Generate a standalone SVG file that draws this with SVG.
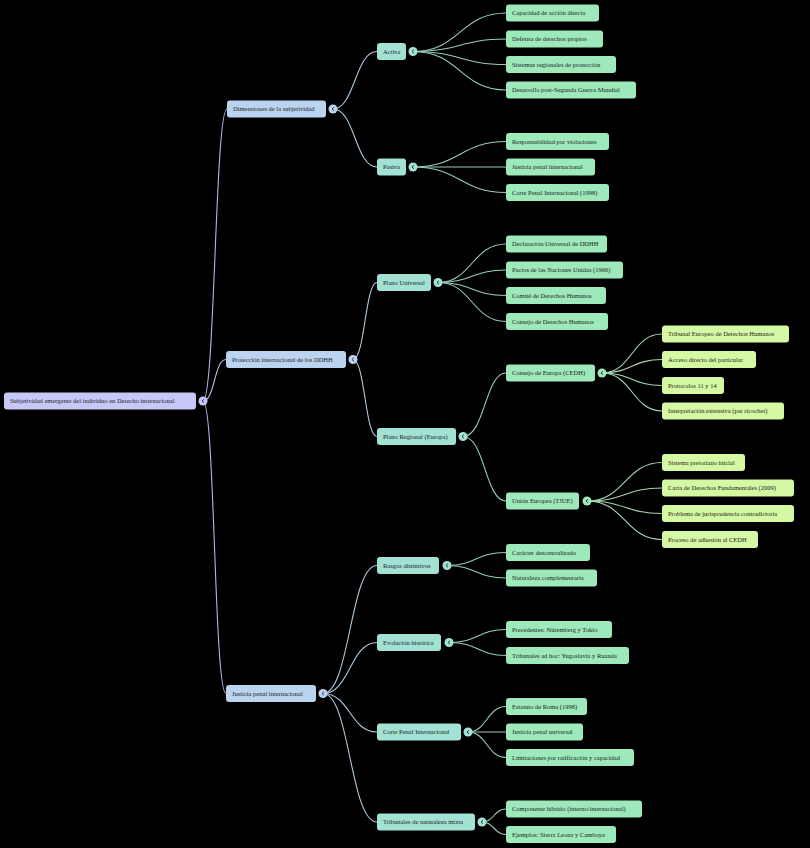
<svg xmlns="http://www.w3.org/2000/svg" width="810" height="848" viewBox="0 0 810 848">
<style>
text{font-family:"Liberation Serif","Times New Roman",serif;font-size:6.5px;fill:#1c1c1c}
.e{fill:none;stroke-width:1.1}
.e0{stroke:#b4b6e6}.e1{stroke:#b0c8de}.e2{stroke:#98ccb8}.e3{stroke:#a6d6b0}
.n0 rect,.n0 circle{fill:#c6c9f8}
.n1 rect,.n1 circle{fill:#bad3ef}
.n2 rect,.n2 circle{fill:#a2e2d4}
.n3 rect,.n3 circle{fill:#9ee9bb}
.n4 rect{fill:#d4f8a3}
.ch{fill:none;stroke:#2a2a2a;stroke-width:0.9}
</style>
<rect width="810" height="848" fill="#000"/>
<g id="connectors">
<path class="e e0" d="M203,401 C215,401 215,109 227,109"/>
<path class="e e0" d="M203,401 C215,401 214,359.5 226,359.5"/>
<path class="e e0" d="M203,401 C215,401 214,693.5 226,693.5"/>
<path class="e e1" d="M333,109 C355,109 355,51.5 377,51.5"/>
<path class="e e1" d="M333,109 C355,109 355,167 377,167"/>
<path class="e e1" d="M353,359.5 C365,359.5 365,282.5 377,282.5"/>
<path class="e e1" d="M353,359.5 C365,359.5 365,436.5 377,436.5"/>
<path class="e e1" d="M323,693.5 C350,693.5 350,565.5 377,565.5"/>
<path class="e e1" d="M323,693.5 C350,693.5 350,642.5 377,642.5"/>
<path class="e e1" d="M323,693.5 C350,693.5 350,732 377,732"/>
<path class="e e1" d="M323,693.5 C350,693.5 350,822 377,822"/>
<path class="e e2" d="M413,51.5 C460,51.5 460,13 506,13"/>
<path class="e e2" d="M413,51.5 C460,51.5 460,39 506,39"/>
<path class="e e2" d="M413,51.5 C460,51.5 460,64.5 506,64.5"/>
<path class="e e2" d="M413,51.5 C460,51.5 460,90 506,90"/>
<path class="e e2" d="M413,167 C460,167 460,141.5 506,141.5"/>
<path class="e e2" d="M413,167 C460,167 460,167 506,167"/>
<path class="e e2" d="M413,167 C460,167 460,192.5 506,192.5"/>
<path class="e e2" d="M438,282.5 C472,282.5 472,244 506,244"/>
<path class="e e2" d="M438,282.5 C472,282.5 472,270 506,270"/>
<path class="e e2" d="M438,282.5 C472,282.5 472,295.5 506,295.5"/>
<path class="e e2" d="M438,282.5 C472,282.5 472,321.5 506,321.5"/>
<path class="e e2" d="M463,436.5 C485,436.5 485,373 506,373"/>
<path class="e e2" d="M463,436.5 C485,436.5 485,501 506,501"/>
<path class="e e3" d="M602,373 C632,373 632,334 662,334"/>
<path class="e e3" d="M602,373 C632,373 632,359.5 662,359.5"/>
<path class="e e3" d="M602,373 C632,373 632,385.5 662,385.5"/>
<path class="e e3" d="M602,373 C632,373 632,411 662,411"/>
<path class="e e3" d="M587,501 C625,501 625,462.5 662,462.5"/>
<path class="e e3" d="M587,501 C625,501 625,488 662,488"/>
<path class="e e3" d="M587,501 C625,501 625,513.5 662,513.5"/>
<path class="e e3" d="M587,501 C625,501 625,539.5 662,539.5"/>
<path class="e e2" d="M447,565.5 C476,565.5 476,552.5 506,552.5"/>
<path class="e e2" d="M447,565.5 C476,565.5 476,578 506,578"/>
<path class="e e2" d="M449,642.5 C478,642.5 478,629.5 506,629.5"/>
<path class="e e2" d="M449,642.5 C478,642.5 478,655.5 506,655.5"/>
<path class="e e2" d="M468,732 C487,732 487,706.5 506,706.5"/>
<path class="e e2" d="M468,732 C487,732 487,732 506,732"/>
<path class="e e2" d="M468,732 C487,732 487,757.5 506,757.5"/>
<path class="e e2" d="M482,822 C494,822 494,809 506,809"/>
<path class="e e2" d="M482,822 C494,822 494,834.5 506,834.5"/>
</g>

<g id="root" class="n0"><rect x="4" y="392.5" width="192" height="17" rx="3"/><text x="10" y="403.3">Subjetividad emergente del individuo en Derecho internacional</text><circle cx="203" cy="401" r="4.5"/><path class="ch" d="M204,399.2 L202,401 L204,402.8"/></g>

<g id="dimensiones" class="n1"><rect x="227" y="100.5" width="99" height="17" rx="3"/><text x="233" y="111.3">Dimensiones de la subjetividad</text><circle cx="333" cy="109" r="4.5"/><path class="ch" d="M334,107.2 L332,109 L334,110.8"/></g>
<g id="proteccion" class="n1"><rect x="226" y="351" width="120" height="17" rx="3"/><text x="232" y="361.8">Protección internacional de los DDHH</text><circle cx="353" cy="359.5" r="4.5"/><path class="ch" d="M354,357.7 L352,359.5 L354,361.3"/></g>
<g id="justicia" class="n1"><rect x="226" y="685" width="90" height="17" rx="3"/><text x="232" y="695.8">Justicia penal internacional</text><circle cx="323" cy="693.5" r="4.5"/><path class="ch" d="M324,691.7 L322,693.5 L324,695.3"/></g>

<g id="activa" class="n2"><rect x="377" y="43" width="29" height="17" rx="3"/><text x="383" y="53.8">Activa</text><circle cx="413" cy="51.5" r="4.5"/><path class="ch" d="M414,49.7 L412,51.5 L414,53.3"/></g>
<g id="pasiva" class="n2"><rect x="377" y="158.5" width="29" height="17" rx="3"/><text x="383" y="169.3">Pasiva</text><circle cx="413" cy="167" r="4.5"/><path class="ch" d="M414,165.2 L412,167 L414,168.8"/></g>
<g id="plano-universal" class="n2"><rect x="377" y="274" width="54" height="17" rx="3"/><text x="383" y="284.8">Plano Universal</text><circle cx="438" cy="282.5" r="4.5"/><path class="ch" d="M439,280.7 L437,282.5 L439,284.3"/></g>
<g id="plano-regional" class="n2"><rect x="377" y="428" width="79" height="17" rx="3"/><text x="383" y="438.8">Plano Regional (Europa)</text><circle cx="463" cy="436.5" r="4.5"/><path class="ch" d="M464,434.7 L462,436.5 L464,438.3"/></g>
<g id="rasgos" class="n2"><rect x="377" y="557" width="62" height="17" rx="3"/><text x="383" y="567.8">Rasgos distintivos</text><circle cx="447" cy="565.5" r="4.5"/><path class="ch" d="M448,563.7 L446,565.5 L448,567.3"/></g>
<g id="evolucion" class="n2"><rect x="377" y="634" width="64" height="17" rx="3"/><text x="383" y="644.8">Evolución histórica</text><circle cx="449" cy="642.5" r="4.5"/><path class="ch" d="M450,640.7 L448,642.5 L450,644.3"/></g>
<g id="corte" class="n2"><rect x="377" y="723.5" width="84" height="17" rx="3"/><text x="383" y="734.3">Corte Penal Internacional</text><circle cx="468" cy="732" r="4.5"/><path class="ch" d="M469,730.2 L467,732 L469,733.8"/></g>
<g id="mixta" class="n2"><rect x="377" y="813.5" width="98" height="17" rx="3"/><text x="383" y="824.3">Tribunales de naturaleza mixta</text><circle cx="482" cy="822" r="4.5"/><path class="ch" d="M483,820.2 L481,822 L483,823.8"/></g>

<g id="l-capacidad" class="n3"><rect x="506" y="4.5" width="93" height="17" rx="3"/><text x="512" y="15.3">Capacidad de acción directa</text></g>
<g id="l-defensa" class="n3"><rect x="506" y="30.5" width="97" height="17" rx="3"/><text x="512" y="41.3">Defensa de derechos propios</text></g>
<g id="l-sistemas" class="n3"><rect x="506" y="56" width="110" height="17" rx="3"/><text x="512" y="66.8">Sistemas regionales de protección</text></g>
<g id="l-desarrollo" class="n3"><rect x="506" y="81.5" width="130" height="17" rx="3"/><text x="512" y="92.3">Desarrollo post-Segunda Guerra Mundial</text></g>
<g id="l-responsabilidad" class="n3"><rect x="506" y="133" width="103" height="17" rx="3"/><text x="512" y="143.8">Responsabilidad por violaciones</text></g>
<g id="l-justicia-penal" class="n3"><rect x="506" y="158.5" width="89" height="17" rx="3"/><text x="512" y="169.3">Justicia penal internacional</text></g>
<g id="l-cpi1998" class="n3"><rect x="506" y="184" width="103" height="17" rx="3"/><text x="512" y="194.8">Corte Penal Internacional (1998)</text></g>
<g id="l-declaracion" class="n3"><rect x="506" y="235.5" width="101" height="17" rx="3"/><text x="512" y="246.3">Declaración Universal de DDHH</text></g>
<g id="l-pactos" class="n3"><rect x="506" y="261.5" width="117" height="17" rx="3"/><text x="512" y="272.3">Pactos de las Naciones Unidas (1966)</text></g>
<g id="l-comite" class="n3"><rect x="506" y="287" width="100" height="17" rx="3"/><text x="512" y="297.8">Comité de Derechos Humanos</text></g>
<g id="l-consejo-dh" class="n3"><rect x="506" y="313" width="102" height="17" rx="3"/><text x="512" y="323.8">Consejo de Derechos Humanos</text></g>
<g id="consejo-europa" class="n3"><rect x="506" y="364.5" width="89" height="17" rx="3"/><text x="512" y="375.3">Consejo de Europa (CEDH)</text><circle cx="602" cy="373" r="4.5"/><path class="ch" d="M603,371.2 L601,373 L603,374.8"/></g>
<g id="union-europea" class="n3"><rect x="506" y="492.5" width="73" height="17" rx="3"/><text x="512" y="503.3">Unión Europea (TJUE)</text><circle cx="587" cy="501" r="4.5"/><path class="ch" d="M588,499.2 L586,501 L588,502.8"/></g>

<g id="l-tedh" class="n4"><rect x="662" y="325.5" width="127" height="17" rx="3"/><text x="668" y="336.3">Tribunal Europeo de Derechos Humanos</text></g>
<g id="l-acceso" class="n4"><rect x="662" y="351" width="94" height="17" rx="3"/><text x="668" y="361.8">Acceso directo del particular</text></g>
<g id="l-protocolos" class="n4"><rect x="662" y="377" width="62" height="17" rx="3"/><text x="668" y="387.8">Protocolos 11 y 14</text></g>
<g id="l-interpretacion" class="n4"><rect x="662" y="402.5" width="122" height="17" rx="3"/><text x="668" y="413.3">Interpretación extensiva (par ricochet)</text></g>
<g id="l-sistema" class="n4"><rect x="662" y="454" width="83" height="17" rx="3"/><text x="668" y="464.8">Sistema pretoriano inicial</text></g>
<g id="l-carta" class="n4"><rect x="662" y="479.5" width="132" height="17" rx="3"/><text x="668" y="490.3">Carta de Derechos Fundamentales (2009)</text></g>
<g id="l-problema" class="n4"><rect x="662" y="505" width="132" height="17" rx="3"/><text x="668" y="515.8">Problema de jurisprudencia contradictoria</text></g>
<g id="l-proceso" class="n4"><rect x="662" y="531" width="96" height="17" rx="3"/><text x="668" y="541.8">Proceso de adhesión al CEDH</text></g>

<g id="l-caracter" class="n3"><rect x="506" y="544" width="84" height="17" rx="3"/><text x="512" y="554.8">Carácter descentralizado</text></g>
<g id="l-naturaleza" class="n3"><rect x="506" y="569.5" width="91" height="17" rx="3"/><text x="512" y="580.3">Naturaleza complementaria</text></g>
<g id="l-precedentes" class="n3"><rect x="506" y="621" width="106" height="17" rx="3"/><text x="512" y="631.8">Precedentes: Núremberg y Tokio</text></g>
<g id="l-tribunales-adhoc" class="n3"><rect x="506" y="647" width="123" height="17" rx="3"/><text x="512" y="657.8">Tribunales ad hoc: Yugoslavia y Ruanda</text></g>
<g id="l-estatuto" class="n3"><rect x="506" y="698" width="81" height="17" rx="3"/><text x="512" y="708.8">Estatuto de Roma (1998)</text></g>
<g id="l-justicia-universal" class="n3"><rect x="506" y="723.5" width="77" height="17" rx="3"/><text x="512" y="734.3">Justicia penal universal</text></g>
<g id="l-limitaciones" class="n3"><rect x="506" y="749" width="128" height="17" rx="3"/><text x="512" y="759.8">Limitaciones por ratificación y capacidad</text></g>
<g id="l-componente" class="n3"><rect x="506" y="800.5" width="136" height="17" rx="3"/><text x="512" y="811.3">Componente híbrido (interno/internacional)</text></g>
<g id="l-ejemplos" class="n3"><rect x="506" y="826" width="110" height="17" rx="3"/><text x="512" y="836.8">Ejemplos: Sierra Leona y Camboya</text></g>
</svg>
